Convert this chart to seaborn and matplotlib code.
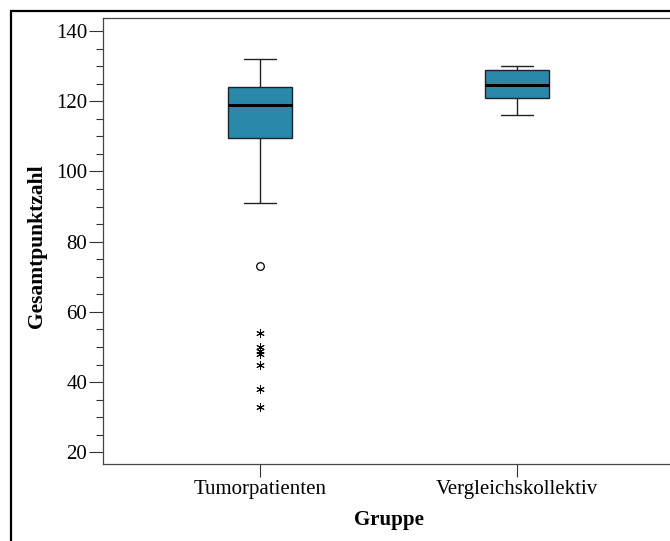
import matplotlib
matplotlib.use("Agg")
import matplotlib.pyplot as plt
from matplotlib.patches import Rectangle
from matplotlib.ticker import MultipleLocator
import pandas as pd
import seaborn as sns

# Groups on the x axis
groups = ["Tumorpatienten", "Vergleichskollektiv"]

# Five-number summary per group: lower whisker, Q1, median, Q3, upper whisker
tumor_summary = [91, 109.5, 119, 124, 132]
vergleich_summary = [116, 121, 124.5, 129, 130]

# Tumorpatienten beyond the whiskers: outlier (circle) and extreme values (stars)
tumor_outliers = [73]
tumor_extremes = [54, 50, 49, 48, 45, 38, 33]

y_ticks = [20, 40, 60, 80, 100, 120, 140]

BOX_COLOR = "#2A89AA"
LINE_COLOR = "#222222"

sns.set_theme(style="ticks")
plt.rcParams["font.family"] = ["Liberation Serif", "DejaVu Serif"]

box_df = pd.DataFrame({
    "Gruppe": [groups[0]] * len(tumor_summary) + [groups[1]] * len(vergleich_summary),
    "Gesamtpunktzahl": tumor_summary + vergleich_summary,
})
outlier_df = pd.DataFrame({
    "Gruppe": [groups[0]] * len(tumor_outliers),
    "Gesamtpunktzahl": tumor_outliers,
})
extreme_df = pd.DataFrame({
    "Gruppe": [groups[0]] * len(tumor_extremes),
    "Gesamtpunktzahl": tumor_extremes,
})

W, H = 670, 541
fig = plt.figure(figsize=(W / 100, H / 100), dpi=100)
ax_left, ax_right, ax_top, ax_bottom = 103.3, 674.0, 17.7, 464.3
ax = fig.add_axes([ax_left / W, 1 - ax_bottom / H,
                   (ax_right - ax_left) / W, (ax_bottom - ax_top) / H])

sns.boxplot(
    data=box_df, x="Gruppe", y="Gesamtpunktzahl", order=groups,
    width=0.25, whis=(0, 100), showfliers=False,
    color=BOX_COLOR, saturation=1, linecolor=LINE_COLOR, linewidth=1.0,
    medianprops=dict(color="black", linewidth=2.2),
    ax=ax,
)
sns.stripplot(
    data=outlier_df, x="Gruppe", y="Gesamtpunktzahl", order=groups,
    jitter=False, marker="o", color="white", edgecolor="black",
    linewidth=0.9, size=5.5, ax=ax, zorder=5,
)
sns.stripplot(
    data=extreme_df, x="Gruppe", y="Gesamtpunktzahl", order=groups,
    jitter=False, marker=(6, 2, 0), color="black", edgecolor="black",
    linewidth=0.7, size=5.5, ax=ax, zorder=5,
)

ax.set_xlim(-0.61, 1.61)
ax.set_ylim(16.6, 143.8)
ax.set_yticks(y_ticks)
ax.yaxis.set_minor_locator(MultipleLocator(5))

ax.tick_params(axis="y", which="major", length=10, width=0.8, color="#333333",
               pad=1.5, labelsize=15, labelcolor="black")
ax.tick_params(axis="y", which="minor", length=4.8, width=0.8, color="#333333")
ax.tick_params(axis="x", which="major", length=9.4, width=0.8, color="#333333",
               pad=2, labelsize=15, labelcolor="black")

ax.set_xlabel("Gruppe", fontsize=15, fontweight="bold", color="black")
ax.set_ylabel("Gesamtpunktzahl", fontsize=15.5, fontweight="bold", color="black")
ax.xaxis.set_label_coords(0.5, -0.103)
ax.yaxis.set_label_coords(-0.098, 0.488)

for spine in ax.spines.values():
    spine.set_color("#444444")
    spine.set_linewidth(0.9)

# Outer frame around the chart area
fig.add_artist(Rectangle((11 / W, -0.2), 1.3, 1 - 10.7 / H + 0.2,
                         transform=fig.transFigure, fill=False,
                         edgecolor="black", linewidth=1.6, clip_on=False))

fig.savefig("out.png", dpi=100)
